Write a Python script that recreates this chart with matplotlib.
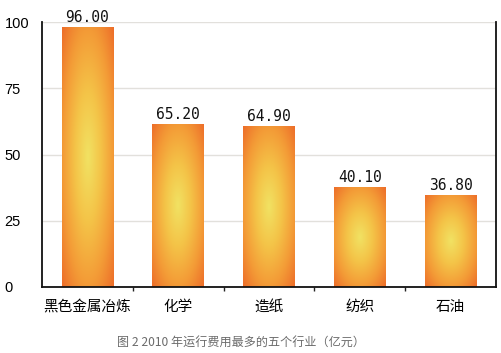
import numpy as np
import matplotlib
matplotlib.use("Agg")
import matplotlib.pyplot as plt
from matplotlib.colors import LinearSegmentedColormap

plt.rcParams['font.family'] = ['Noto Sans CJK SC', 'DejaVu Sans']

categories = ["黑色金属冶炼", "化学", "造纸", "纺织", "石油"]
bar_heights = [98.0, 61.6, 60.6, 37.6, 34.8]   # heights as drawn in the picture
value_labels = ["96.00", "65.20", "64.90", "40.10", "36.80"]
yticks = [0, 25, 50, 75, 100]
caption = "图 2 2010 年运行费用最多的五个行业（亿元）"

W, H = 502, 353
fig = plt.figure(figsize=(W / 100, H / 100), dpi=100)
ax = fig.add_axes([42 / W, (H - 287) / H, (496 - 42) / W, (287 - 22) / H])

x = np.arange(len(categories))
bars = ax.bar(x, bar_heights, width=0.57, color='none', edgecolor='none', zorder=2)

cmap = LinearSegmentedColormap.from_list(
    "glow", [(0.0, "#f1e263"), (0.35, "#f4c448"), (0.7, "#f39a36"), (1.0, "#ed6d29")])

gy, gx = np.mgrid[-1:1:200j, -1:1:100j]
r = np.sqrt(gx ** 2 + gy ** 2) / np.sqrt(2)
for p in bars:
    bx, by, bw, bh = p.get_x(), p.get_y(), p.get_width(), p.get_height()
    im = ax.imshow(r, cmap=cmap, vmin=0, vmax=1, extent=[bx, bx + bw, by, by + bh],
                   aspect='auto', origin='lower', zorder=2, interpolation='bilinear')
    im.set_clip_path(p)

ax.bar_label(bars, labels=value_labels, padding=1.5, fontsize=10.5,
             family=['DejaVu Sans Mono'], color='#111111')

ax.set_xlim(-0.5, len(categories) - 0.5)
ax.set_ylim(0, 100)
ax.set_yticks(yticks)
ax.set_yticklabels([str(v) for v in yticks], fontsize=10.5, family=['Liberation Sans'], ha='left')
ax.tick_params(axis='y', length=0, pad=27)

ax.set_xticks(x)
ax.set_xticklabels(categories, fontsize=10.5)
ax.tick_params(axis='x', which='major', length=0, pad=9)
ax.set_xticks(np.arange(len(categories) - 1) + 0.5, minor=True)
ax.tick_params(axis='x', which='minor', length=3, width=1, direction='out', color='#222222')

ax.grid(axis='y', color='#e2e0dc', linewidth=1)
ax.set_axisbelow(True)
for s in ['left', 'bottom', 'right']:
    ax.spines[s].set_color('#111111')
    ax.spines[s].set_linewidth(1.3)
ax.spines['top'].set_visible(False)

fig.text(241 / W, 1 - 342 / H, caption, ha='center', va='center', fontsize=8.7, color='#6b6b6b')

fig.savefig("out.png", dpi=100)
